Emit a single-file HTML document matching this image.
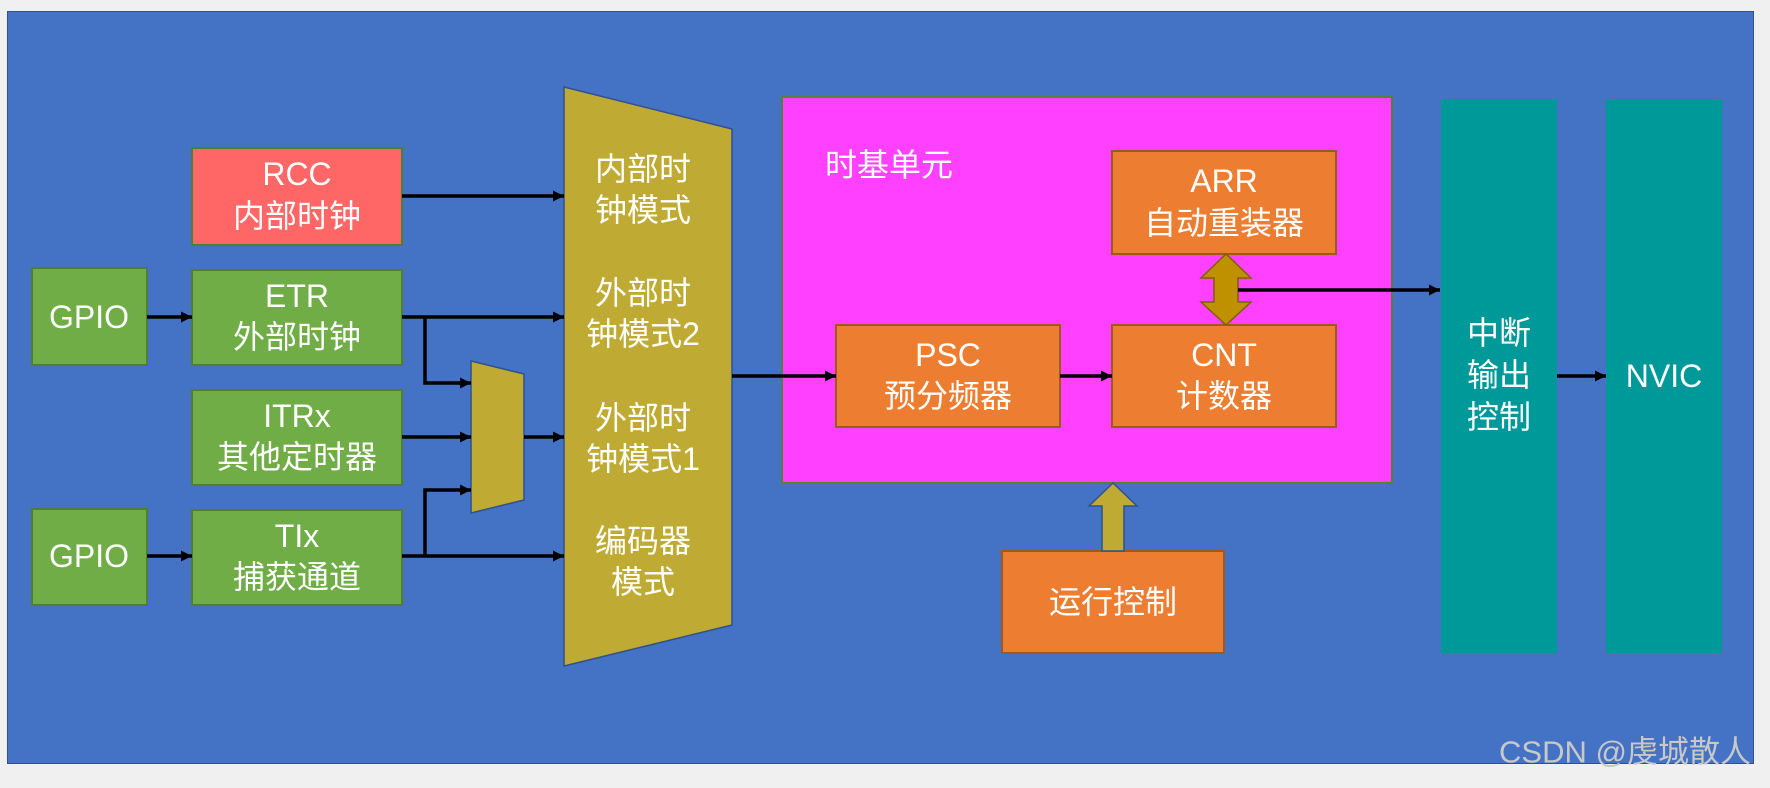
<!DOCTYPE html>
<html><head><meta charset="utf-8"><style>
body{margin:0;width:1770px;height:783px;background:#f0f0f0;overflow:hidden;font-family:"Liberation Sans","Noto Sans CJK SC",sans-serif}
svg text{font-family:"Liberation Sans","Noto Sans CJK SC",sans-serif;fill:#fff;font-size:32px;text-anchor:middle;dominant-baseline:central}
</style></head><body>
<svg width="1770" height="783" viewBox="0 0 1770 783">
<defs>
<marker id="b" viewBox="0 0 10 10" markerWidth="13" markerHeight="11" refX="10" refY="5" orient="auto" markerUnits="userSpaceOnUse"><path d="M0,0L10,5L0,10z" fill="#000"/></marker></defs>
<rect x="7.5" y="11.5" width="1746" height="752" fill="#4472c4" stroke="#2f528f"/>
<g stroke="#507e32" stroke-width="2" fill="#70ad47">
<rect x="192" y="148" width="210" height="97" fill="#ff6666"/>
<rect x="32" y="268" width="115" height="97"/>
<rect x="192" y="270" width="210" height="95"/>
<rect x="192" y="390" width="210" height="95"/>
<rect x="32" y="509" width="115" height="96"/>
<rect x="192" y="510" width="210" height="95"/>
</g>
<polygon points="564,87 732,129 732,625 564,666" fill="#bfab33" stroke="#2f528f" stroke-width="1.5"/>
<polygon points="471,361 524,374 524,500 471,513" fill="#bfab33" stroke="#2f528f" stroke-width="1.5"/>
<rect x="782" y="97" width="610" height="386" fill="#ff40ff" stroke="#548235" stroke-width="2"/>
<g fill="#ed7d31" stroke="#9c5a1c" stroke-width="2">
<rect x="836" y="325" width="224" height="102"/>
<rect x="1112" y="151" width="224" height="103"/>
<rect x="1112" y="325" width="224" height="102"/>
<rect x="1002" y="551" width="222" height="102"/>
</g>
<rect x="1441" y="99" width="116" height="555" fill="#009999"/>
<rect x="1606" y="99" width="116" height="555" fill="#009999"/>
<polygon points="1226,254 1251,278 1238,278 1238,302 1251,302 1226,325 1201,302 1214,302 1214,278 1201,278" fill="#bf9000" stroke="#7f6000" stroke-width="1.5"/>
<polygon points="1113,483 1137,506 1124,506 1124,551 1102,551 1102,506 1089,506" fill="#bfab33" stroke="#2f528f" stroke-width="1.5"/>
<g stroke="#000" stroke-width="3.5" fill="none" marker-end="url(#b)">
<path d="M402,196H564"/>
<path d="M402,317H564"/>
<path d="M425,317V383H471"/>
<path d="M402,437H471"/>
<path d="M524,437H564"/>
<path d="M402,556H564"/>
<path d="M425,556V490H471"/>
<path d="M147,317H192"/>
<path d="M147,556H192"/>
<path d="M732,376H836"/>
<path d="M1060,376H1112"/>
<path d="M1238,290H1440"/>
<path d="M1557,376H1606"/>
</g>
<text x="297" y="174">RCC</text><text x="297" y="216">内部时钟</text>
<text x="89" y="317">GPIO</text><text x="89" y="556">GPIO</text>
<text x="297" y="296">ETR</text><text x="297" y="337">外部时钟</text>
<text x="297" y="416">ITRx</text><text x="297" y="457">其他定时器</text>
<text x="297" y="536">TIx</text><text x="297" y="577">捕获通道</text>
<text x="643" y="169">内部时</text><text x="643" y="210">钟模式</text>
<text x="643" y="293">外部时</text><text x="643" y="334">钟模式2</text>
<text x="643" y="418">外部时</text><text x="643" y="459">钟模式1</text>
<text x="643" y="541">编码器</text><text x="643" y="582">模式</text>
<text x="889" y="165">时基单元</text>
<text x="1224" y="181">ARR</text><text x="1224" y="223">自动重装器</text>
<text x="948" y="355">PSC</text><text x="948" y="396">预分频器</text>
<text x="1224" y="355">CNT</text><text x="1224" y="396">计数器</text>
<text x="1113" y="602">运行控制</text>
<text x="1499" y="333">中断</text><text x="1499" y="375">输出</text><text x="1499" y="417">控制</text>
<text x="1664" y="376">NVIC</text>
<text x="1625" y="752" style="fill:#c8c8c8;font-size:31px">CSDN @虔城散人</text>
</svg>
</body></html>
